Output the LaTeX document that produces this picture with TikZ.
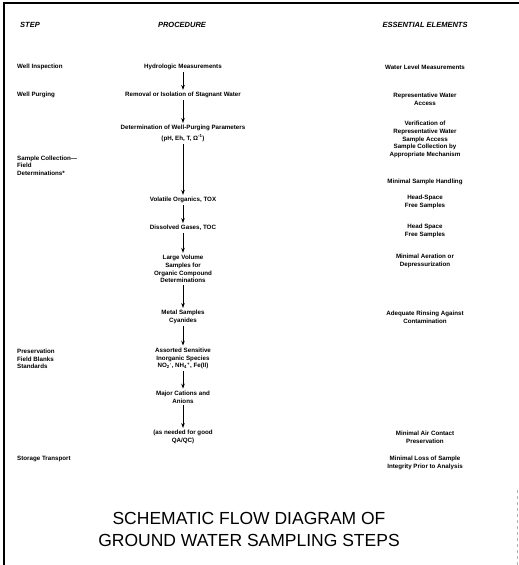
\documentclass[tikz,border=0pt]{standalone}
\usepackage{fontspec}
\setmainfont{Liberation Sans}
\usetikzlibrary{arrows.meta}
\begin{document}
\begin{tikzpicture}[x=1pt,y=-1pt,
  txt/.style={font=\fontsize{6.2}{7.8}\selectfont\bfseries, align=center, inner sep=2pt},
  lft/.style={font=\fontsize{6.2}{7.5}\selectfont\bfseries, align=left, anchor=west, inner sep=0pt},
  hdr/.style={font=\fontsize{7.5}{9}\selectfont\bfseries\itshape, inner sep=0pt},
  ttl/.style={font=\fontsize{17.5}{22}\selectfont, align=center, inner sep=0pt},
  arr/.style={-{Stealth[length=5pt,width=3.6pt]}, line width=0.8pt},
  frame/.style={line width=2pt}]
\useasboundingbox (0,0) rectangle (519,565);
% frame
\draw[frame] (4,565) -- (4,3) -- (519,3);
\draw[gray!60, line width=0.6pt, dashed] (517,490) -- (517,565);
% headers
\node[hdr] (hs) at (30,25) {STEP};
\node[hdr] (hp) at (182,25) {PROCEDURE};
\node[hdr] (he) at (425,25) {ESSENTIAL ELEMENTS};
% step column
\node[lft] (s1) at (17,67) {Well Inspection};
\node[lft] (s2) at (17,95) {Well Purging};
\node[lft] (s3) at (17,165.5) {Sample Collection—\\Field\\Determinations*};
\node[lft] (s4) at (17,359) {Preservation\\Field Blanks\\Standards};
\node[lft] (s5) at (17,459) {Storage Transport};
% procedure column
\node[txt] (p1) at (183,67) {Hydrologic Measurements};
\node[txt] (p2) at (183,95) {Removal or Isolation of Stagnant Water};
\node[txt] (p3) at (183,133.5) {Determination of Well-Purging Parameters\\[3pt](pH, Eh, T, Ω\textsuperscript{-1})};
\node[txt] (p4) at (183,200) {Volatile Organics, TOX};
\node[txt] (p5) at (183,228) {Dissolved Gases, TOC};
\node[txt] (p6) at (183,269) {Large Volume\\Samples for\\Organic Compound\\Determinations};
\node[txt] (p7) at (183,317) {Metal Samples\\Cyanides};
\node[txt] (p8) at (183,358.5) {Assorted Sensitive\\Inorganic Species\\NO\textsubscript{2}\textsuperscript{-}, NH\textsubscript{4}\textsuperscript{+}, Fe(II)};
\node[txt] (p9) at (183,397) {Major Cations and\\Anions};
\node[txt] (p10) at (183,437) {(as needed for good\\QA/QC)};
% essential elements column
\node[txt] (e1) at (425,67) {Water Level Measurements};
\node[txt] (e2) at (425,99) {Representative Water\\Access};
\node[txt] (e3) at (425,139.5) {Verification of\\Representative Water\\Sample Access\\Sample Collection by\\Appropriate Mechanism};
\node[txt] (e4) at (425,182) {Minimal Sample Handling};
\node[txt] (e5) at (425,202) {Head-Space\\Free Samples};
\node[txt] (e6) at (425,231) {Head Space\\Free Samples};
\node[txt] (e7) at (425,261) {Minimal Aeration or\\Depressurization};
\node[txt] (e8) at (425,317) {Adequate Rinsing Against\\Contamination};
\node[txt] (e9) at (425,437) {Minimal Air Contact\\Preservation};
\node[txt] (e10) at (425,463) {Minimal Loss of Sample\\Integrity Prior to Analysis};
% arrows
\foreach \a/\b in {p1/p2,p2/p3,p3/p4,p4/p5,p5/p6,p6/p7,p7/p8,p8/p9,p9/p10}
  \draw[arr] (\a) -- (\b);
% title
\node[ttl] (t) at (249,529) {SCHEMATIC FLOW DIAGRAM OF\\GROUND WATER SAMPLING STEPS};
\end{tikzpicture}
\end{document}
